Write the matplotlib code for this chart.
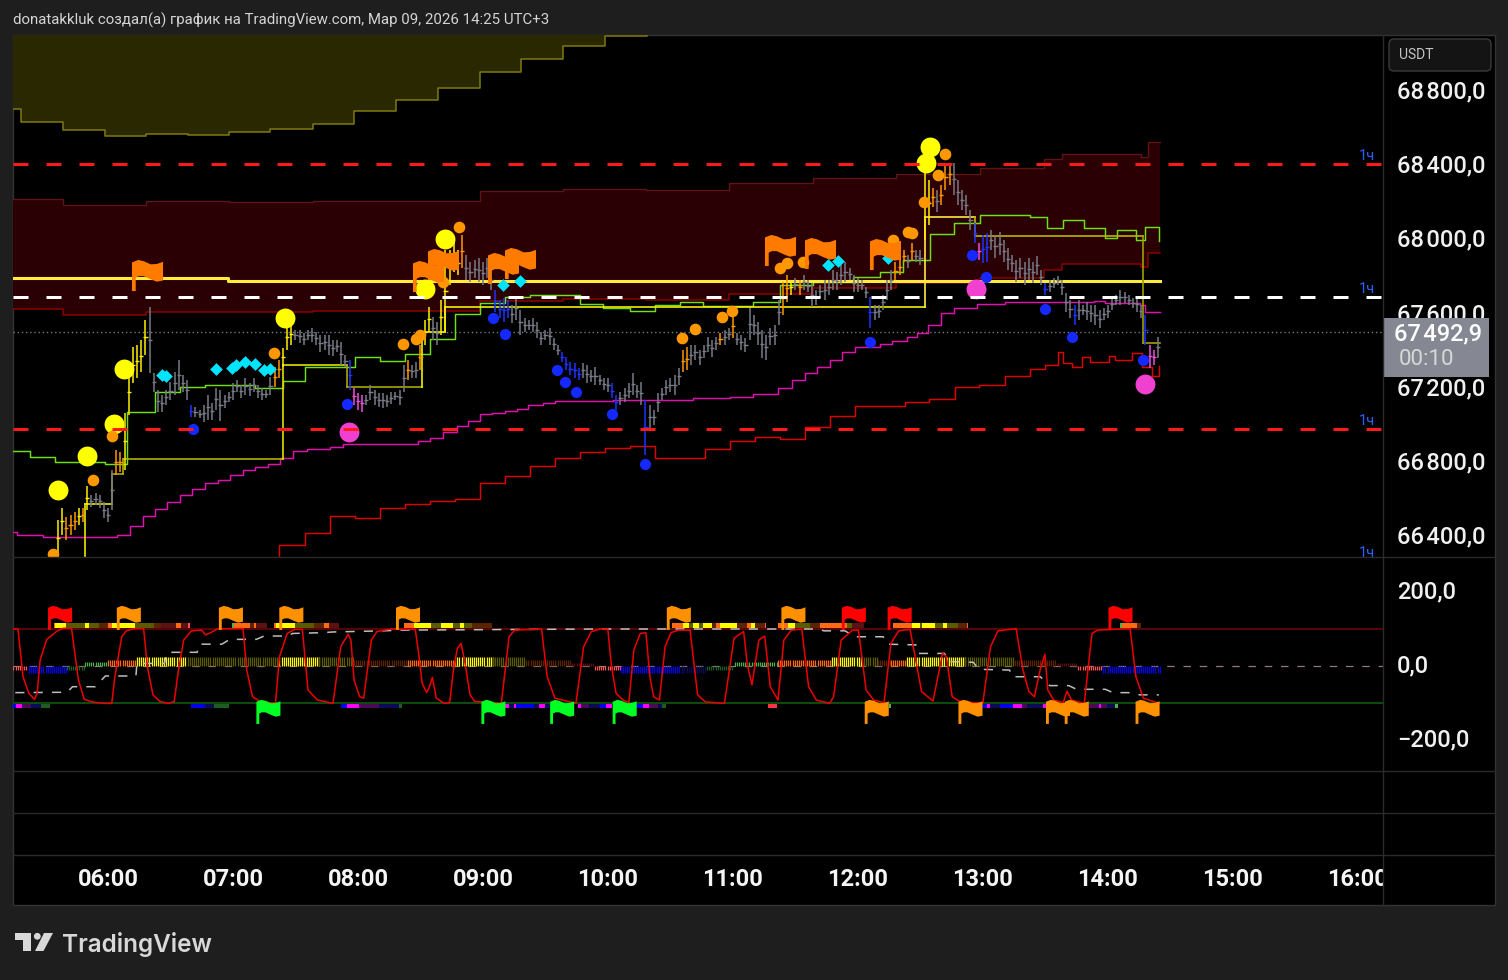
import numpy as np
import matplotlib
matplotlib.use("Agg")
import matplotlib.pyplot as plt
from matplotlib.patches import Rectangle, FancyBboxPatch, Polygon, Circle
from matplotlib.path import Path
from matplotlib.transforms import ScaledTranslation

# all times are minutes since 05:00
BG = '#1e1e1e'
GRID = '#2b2b2b'
FONT = ['Roboto', 'DejaVu Sans']

# --- price pane ---
bar_start = 36
bar_step = 2
bar_high = [
    66479, 66544, 66495, 66506, 66522, 66544, 66544, 66662, 66614, 66624,
    66614, 66576, 66544, 66748, 66856, 66845, 67056, 67287, 67411, 67422,
    67449, 67557, 67627, 67271, 67180, 67153, 67180, 67223, 67277, 67341,
    67260, 67233, 67099, 67088, 67072, 67099, 67153, 67110, 67190, 67180,
    67153, 67169, 67217, 67233, 67207, 67244, 67217, 67244, 67207, 67190,
    67180, 67250, 67304, 67341, 67406, 67530, 67541, 67503, 67503, 67487,
    67503, 67514, 67492, 67476, 67476, 67476, 67449, 67449, 67438, 67368,
    67341, 67190, 67163, 67153, 67153, 67207, 67180, 67163, 67163, 67153,
    67169, 67169, 67180, 67314, 67341, 67314, 67330, 67422, 67557, 67627,
    67573, 67546, 67665, 67934, 67934, 67988, 67934, 68015, 67907, 67870,
    67880, 67891, 67870, 67891, 67826, 67719, 67665, 67675, 67665, 67638,
    67681, 67611, 67568, 67557, 67568, 67546, 67492, 67503, 67514, 67460,
    67422, 67384, 67357, 67330, 67325, 67298, 67325, 67314, 67287, 67304,
    67260, 67244, 67244, 67217, 67153, 67169, 67190, 67217, 67271, 67207,
    67223, 67126, 67099, 67072, 67163, 67190, 67233, 67244, 67260, 67298,
    67395, 67411, 67422, 67422, 67395, 67422, 67465, 67449, 67465, 67487,
    67503, 67514, 67584, 67487, 67476, 67460, 67622, 67584, 67546, 67503,
    67476, 67514, 67530, 67665, 67762, 67799, 67772, 67783, 67772, 67799,
    67772, 67756, 67719, 67746, 67772, 67772, 67826, 67816, 67853, 67870,
    67837, 67799, 67783, 67772, 67735, 67681, 67638, 67638, 67692, 67772,
    67826, 67870, 67891, 67934, 67907, 67972, 67934, 67934, 68349, 68311,
    68268, 68258, 68285, 68392, 68403, 68403, 68311, 68258, 68231, 68150,
    68080, 67972, 68015, 68026, 68042, 68015, 68031, 67988, 67945, 67907,
    67880, 67891, 67870, 67891, 67870, 67902, 67826, 67756, 67772, 67783,
    67794, 67772, 67702, 67665, 67638, 67665, 67638, 67654, 67638, 67638,
    67611, 67622, 67638, 67675, 67692, 67719, 67708, 67692, 67675, 67681,
    67638, 67584, 67422, 67395, 67465,
]
bar_low = [
    66279, 66398, 66371, 66398, 66425, 66452, 66468, 66533, 66549, 66560,
    66544, 66490, 66468, 66533, 66721, 66738, 66748, 67045, 67217, 67244,
    67277, 67368, 67271, 67169, 67061, 67061, 67099, 67126, 67153, 67180,
    67169, 67126, 67034, 67034, 67029, 67007, 67018, 67018, 67072, 67012,
    67083, 67115, 67126, 67169, 67136, 67153, 67147, 67169, 67136, 67126,
    67136, 67153, 67196, 67244, 67304, 67395, 67422, 67449, 67433, 67422,
    67449, 67438, 67422, 67384, 67395, 67368, 67363, 67384, 67314, 67304,
    67180, 67099, 67072, 67061, 67099, 67126, 67099, 67088, 67083, 67088,
    67104, 67126, 67099, 67169, 67233, 67244, 67244, 67287, 67422, 67492,
    67449, 67422, 67476, 67492, 67746, 67816, 67799, 67837, 67772, 67762,
    67783, 67762, 67746, 67783, 67719, 67600, 67568, 67546, 67568, 67541,
    67557, 67476, 67492, 67503, 67492, 67460, 67422, 67449, 67422, 67395,
    67368, 67330, 67287, 67260, 67244, 67233, 67244, 67217, 67223, 67207,
    67207, 67180, 67169, 67136, 67072, 67099, 67115, 67136, 67153, 67136,
    67099, 66829, 66964, 66991, 67061, 67126, 67153, 67169, 67153, 67207,
    67277, 67287, 67314, 67341, 67314, 67352, 67384, 67357, 67395, 67422,
    67422, 67449, 67460, 67422, 67395, 67384, 67449, 67476, 67422, 67352,
    67341, 67422, 67422, 67530, 67584, 67654, 67692, 67719, 67692, 67719,
    67708, 67627, 67638, 67675, 67665, 67692, 67719, 67719, 67746, 67762,
    67772, 67708, 67708, 67719, 67675, 67514, 67557, 67568, 67611, 67665,
    67719, 67772, 67799, 67870, 67837, 67880, 67870, 67853, 67988, 68069,
    68166, 68139, 68177, 68258, 68285, 68231, 68177, 68150, 68123, 68042,
    67972, 67880, 67864, 67870, 67934, 67891, 67907, 67870, 67826, 67816,
    67762, 67783, 67746, 67772, 67756, 67799, 67746, 67692, 67708, 67729,
    67746, 67692, 67600, 67568, 67530, 67557, 67584, 67557, 67546, 67530,
    67514, 67557, 67568, 67611, 67638, 67638, 67649, 67638, 67622, 67600,
    67568, 67422, 67298, 67314, 67352,
]
bar_kinds = (
    "yyoooyoygg" "ggggooyyyy" "yygggggggg" "ggbggggggg" "gggggggggg"
    "ggooyyyggg" "gggggggggg" "bmmmgggggg" "ggggoggoyy" "ggyyyyyogg"
    "gggggbbbbg" "gggggggggg" "gbbbbbgggg" "gggbbggggg" "gbgggggggg"
    "oogggggggo" "ggoggggggg" "ggggooygog" "gggggggggg" "gggggbgggg"
    "gooogoggyy" "ogoooggggg" "bmbbgggggg" "gggggggbgg" "ggggbggggg"
    "gggggggggg" "gbmmg"
)
bar_palette = {'g': '#787b86', 'y': '#ffee00', 'o': '#ff9800', 'b': '#1f33ff', 'm': '#f050e0'}

olive_t = [14.4, 18.2, 38.4, 58.6, 78.2, 98.4, 118.1, 137.8, 158.4, 178.1, 198.2, 218.4, 238.6, 258.2, 278.4, 298.6, 318.7]
olive_p = [68694, 68624, 68581, 68549, 68559, 68554, 68570, 68586, 68613, 68683, 68743, 68807, 68894, 68964, 69034, 69088, 69120]

band_t = [14.4, 38.4, 78.2, 118.1, 158.4, 238.6, 278.4, 318.2, 358.1, 398.4, 438.2, 478.6, 509.3, 517.9, 555.8, 559.2, 565]
band_top = [68209, 68177, 68198, 68193, 68198, 68252, 68263, 68258, 68295, 68322, 68344, 68376, 68425, 68452, 68435, 68516, 68516]
band_low = [67616, 67584, 67600, 67600, 67605, 67659, 67670, 67665, 67697, 67729, 67756, 67783, 67826, 67859, 67843, 67918, 67918]

green_t = [14.4, 22.6, 34.6, 58.6, 69.1, 82.6, 94.6, 106.6, 130.6, 144, 154.6, 178.6, 190.6, 202.6, 214.6, 226.6, 238.6, 250.6, 262.6, 286.6, 297.6,
           310.6, 322.6, 334.6, 345.6, 369.6, 382.6, 398.4, 417.6, 430.6, 441.6, 454.6, 466.1, 478.6, 502.6, 510.7, 518.4, 528.5, 538.6, 544.3, 553.4, 557.8, 564.5]
green_p = [66851, 66818, 66792, 66781, 67061, 67169, 67196, 67207, 67190, 67228, 67304, 67357, 67336, 67374, 67454, 67589, 67649, 67681, 67692, 67643, 67622,
           67605, 67638, 67654, 67632, 67654, 67746, 67762, 67789, 67816, 67880, 68020, 68080, 68123, 68112, 68053, 68096, 68053, 67999, 68042, 67988, 68058, 67983]

stair_t = [49, 61.9, 67.2, 144, 174.7, 210.7, 221.8, 452.2, 476.2, 556.8, 565]
stair_p = [66565, 66727, 66808, 67314, 67196, 67492, 67627, 68112, 68010, 67433]
stair_c = ['#e8e800', '#a8a800', '#b0b000', '#e0e000', '#a8a800', '#f0f000', '#f0f000', '#ffe840', '#b8b800', '#a0a000']

gold_t = [14.4, 117.6, 565]
gold_p = [67783, 67767, 67767]

magenta_t = [14.4, 16.3, 28.8, 64.3, 70.6, 76.8, 82.6, 88.3, 94.6, 100.3, 106.6, 112.8, 118.6, 124.8, 130.6, 136.8, 142.6, 148.8, 155.5, 166.6, 172.8, 208.8,
             214.6, 220.8, 227.5, 232.8, 238.6, 244.3, 250.6, 256.3, 261.6, 268.8, 274.6, 302.4, 340.8, 358.6, 369.6, 381.6, 388.3, 394.6, 400.3, 406.6,
             412.3, 418.6, 430.6, 436.3, 443.5, 448.3, 453.6, 459.8, 466.1, 477.1, 490.6, 533.3, 538.6, 555.4, 557.8, 565]
magenta_p = [66414, 66398, 66387, 66398, 66447, 66500, 66538, 66576, 66614, 66646, 66678, 66694, 66721, 66748, 66764, 66781, 66813, 66851, 66862, 66872, 66889, 66905,
             66921, 66953, 66986, 67012, 67050, 67056, 67066, 67077, 67099, 67110, 67120, 67126, 67136, 67142, 67158, 67190, 67233, 67271, 67304, 67341,
             67384, 67411, 67428, 67444, 67465, 67487, 67530, 67595, 67622, 67643, 67654, 67659, 67649, 67638, 67600, 67600]

red_t = [141.6, 142.1, 154.6, 166.6, 178.6, 190.6, 202.6, 214.6, 226.6, 238.6, 250.6, 262.6, 274.6, 286.6, 298.6, 310.6, 322.6, 346.6, 358.6, 370.6, 382.6, 394.6,
         406.6, 418.6, 442.6, 454.1, 466.6, 478.1, 490.6, 502.6, 509.8, 516, 518.4, 522.7, 527.5, 531.4, 540.5, 543.4, 551.5, 556.3, 561.1, 564.5]
red_p = [66085, 66344, 66409, 66500, 66490, 66544, 66565, 66581, 66592, 66678, 66716, 66770, 66813, 66845, 66867, 66878, 66813, 66862, 66905, 66926, 66916, 66980,
         67039, 67093, 67115, 67131, 67196, 67207, 67255, 67293, 67314, 67384, 67325, 67304, 67357, 67330, 67363, 67341, 67379, 67304, 67255, 67309]

yellow_t = [36, 49.9, 62.9, 67.7, 145, 212.2, 221.8, 452.6, 454.6]
yellow_p = [66641, 66824, 66996, 67293, 67568, 67724, 67993, 68403, 68489]
orange_t = [33.6, 52.8, 61.9, 139.7, 201.6, 207.8, 209.8, 220.8, 228.5, 335.5, 341.8, 354.7, 359.5, 382.6, 385.9, 393.6, 436.8, 444, 445.9, 451.7, 458.4, 461.8]
orange_p = [66296, 66694, 66932, 67379, 67428, 67454, 67476, 67762, 68058, 67460, 67508, 67573, 67605, 67837, 67864, 67870, 67988, 68031, 68026, 68193, 68338, 68452]
blue_t = [100.8, 174.7, 244.8, 250.6, 275.5, 279.4, 284.6, 301.9, 317.8, 425.8, 474.7, 481.4, 509.8, 522.7, 556.8]
blue_p = [66969, 67104, 67568, 67481, 67287, 67223, 67169, 67050, 66781, 67438, 67907, 67789, 67616, 67465, 67341]
cyan_t = [85.9, 87.8, 111.8, 119.5, 121.4, 125.8, 130.6, 134.9, 137.8, 249.6, 257.8, 405.6, 410.4, 434.4]
cyan_p = [67260, 67255, 67293, 67298, 67314, 67330, 67320, 67287, 67293, 67746, 67767, 67853, 67875, 67891]
pink_t = [175.7, 476.6, 557.8]
pink_p = [66953, 67724, 67212]
flag_t = [78.7, 213.6, 220.8, 249.6, 257.8, 382.6, 401.8, 433]
flag_p = [67799, 67794, 67859, 67837, 67864, 67934, 67918, 67913]

level_red = [68400, 66970]
level_white = 67680
last_price = 67492.9
price_ticks = [66400, 66800, 67200, 67600, 68000, 68400, 68800]

# --- oscillator pane ---
osc_t = [14.6, 16.8, 17.7, 19.2, 22, 24.7, 26, 27.4, 30.6, 35.7, 38.5, 42.5, 44.3, 45.8, 48.6, 52.2, 57.8, 61.8, 63.3, 66.6, 68.8, 72.5, 77.1, 78.9, 81.6, 85, 89,
         91.8, 93.6, 96.3, 100, 105, 106.8, 109.2, 112.9, 124.8, 126.6, 129.4, 133, 140.4, 142.3, 146, 149.6, 153.3, 156, 160.6, 168, 171.7, 175.3, 176.6, 178.1,
         180.8, 182.7, 186.4, 189.1, 195.5, 207.5, 209.3, 210.8, 213, 214.3, 215.7, 217.6, 221.3, 224, 225.8, 227.7, 229.5, 231.4, 233.8, 236, 248.8, 252.5, 255.2,
         268.1, 270.8, 274.5, 284.6, 288.3, 292, 296.2, 299.9, 301.7, 303.9, 307.2, 310, 312.4, 315.5, 318.2, 320.1, 321.9, 324.7, 327.4, 330.2, 333.9, 339.4, 343,
         346.7, 355.9, 358.7, 360.5, 365.1, 366.9, 369.1, 372.4, 375.2, 377.9, 381.6, 384.4, 388, 393, 396.3, 400, 406.4, 408.3, 411.9, 417.4, 420.2, 423.9, 427.5,
         432.5, 435.8, 439.5, 445, 450.5, 456, 460.6, 462.4, 465.2, 468.9, 479.9, 483.6, 487.2, 495.9, 499.2, 502, 504.7, 507.4, 509.7, 511.1, 513.9, 518.5, 520.3,
         522.5, 528.6, 532.3, 535, 550.6, 553.4, 557, 564.4]
osc_v = [100, 100, 52, -29, -74, -90, -74, 16, 72, 95, 102, 102, 25, -38, -90, -97, -101, -101, -29, 79, 95, 101, 101, -2, -78, -96, -101,
         -96, -20, 70, 95, 97, 84, 90, 101, 101, -11, -83, -96, -101, 25, 88, 99, 99, -65, -92, -101, 52, 86, 70, -38,
         -83, -87, 70, 93, 100, 99, 25, -47, -72, -56, -31, -87, -101, -99, -11, 48, 61, 7, -78, -96, -101, 79, 97,
         100, -29, -87, -101, 52, 93, 100, 100, -2, -74, -92, -99, 43, 88, 90, -29, -83, -92, 52, 90, 97, 97, -78,
         -97, -101, 7, 75, 93, 3, -51, 70, 81, -56, -92, 70, 97, 100, -56, -92, -101, -83, 70, 97, 97, -65, -92,
         -99, 61, 95, 99, -69, -95, 34, 25, -83, -96, -101, 52, 95, 101, -11, -69, -83, -11, 32, -65, -92, -99, -68,
         -92, -101, 88, 97, 101, -29, -87, -101]

slow_t = [15.5, 40.3, 43, 54, 58.7, 73.4, 73.9, 87.1, 88.4, 102.8, 103.7, 114.7, 118.4, 131.2, 134.9, 145.9, 148.7, 162.5, 168, 191.9, 201, 296, 400.9, 403.7,
          413.8, 418.4, 432.1, 434, 447.8, 448.7, 461.5, 463.4, 475.3, 478.1, 492.8, 493.7, 507.5, 512, 521.2, 524.9, 538.7, 542.4, 551.5, 555.2, 564.4]
slow_v = [-72, -71, -56, -56, -27, -27, 7, 7, 37, 37, 59, 59, 72, 72, 81, 81, 88, 90, 92, 95, 97, 100, 100, 95,
          95, 79, 79, 59, 57, 34, 34, 12, 10, -9, -11, -29, -29, -53, -53, -63, -63, -72, -72, -78, -78]

tone = {'yel': '#ffff00', 'oli': '#5a5a00', 'bro': '#5a2400', 'ora': '#ff6a13', 'mar': '#5a1212', 'sal': '#ff5555',
        'gre': '#4caf50', 'dkg': '#1b5e20', 'blu': '#0000ee', 'nav': '#0a0a55', 'mag': '#ff00ff', 'pur': '#4a0a55', 'red': '#ff3344'}

hist_from = [14.6, 22, 40.3, 49, 60, 73.9, 98.2, 142.3, 161.5, 178.1, 203.8, 227.7, 244.8, 260.8, 281.9, 293.8, 306.3, 335.7, 347.6, 360.9,
             381.6, 407.3, 422, 429.4, 435.8, 443.5, 471.6, 495.5, 514.8, 525.8, 537.8]
hist_to = [21, 40.3, 48.6, 59.6, 73.4, 97.6, 142.3, 161.5, 178.1, 203.8, 227.7, 244.8, 260.8, 281.9, 293.3, 306.3, 335.7, 347.6, 360.5, 381.6,
           407.3, 422, 429.4, 435.8, 443.2, 471.6, 495.5, 514.8, 525.5, 537.8, 565.3]
hist_val = [-10, -18, -10, 10, 17, 25, 25, 25, 25, 17, 17, 25, 25, 17, 8, -10, -18, -18, -10, 10, 17, 25, 25, 17, 17, 25, 25, 17, 8, -10, -18]
hist_tone = ['sal', 'blu', 'dkg', 'gre', 'ora', 'yel', 'oli', 'yel', 'oli', 'bro', 'ora', 'yel', 'oli', 'bro', 'mar', 'sal', 'blu', 'nav', 'dkg', 'gre',
             'ora', 'yel', 'oli', 'bro', 'ora', 'yel', 'oli', 'bro', 'mar', 'sal', 'blu']

top_from = [33.9, 34.8, 39.8, 49, 50.8, 55.9, 60, 62, 72.8, 82, 85.3, 92.7, 94.9, 98.2,
            119.3, 120.6, 128, 130.3, 131.2,
            139.7, 140.8, 149.6, 158.8, 163.8, 166.1,
            202.2, 206.9, 215.2, 219.8, 225.8, 229.1, 231, 234.7,
            330.6, 336, 338.8, 340.8, 343.6, 345.4, 350, 351.9, 353.7, 362, 366.9, 368.8, 370.6, 375.2,
            381.6, 386.2, 389.9, 396.9, 401.8, 414.7, 416.9,
            436.7, 445.9, 449.6, 450.5, 457, 460.6, 462.8, 468, 472.2,
            545.7, 546.6, 553.9]
top_to = [34.8, 39.8, 49, 50.8, 55.9, 60, 62, 72.8, 82, 85.3, 92.7, 94.9, 98.2, 99.5,
          120.6, 128, 130.3, 131.2, 136.2,
          140.8, 149.6, 158.8, 163.8, 166.1, 170.7,
          206.9, 215.2, 219.8, 225.8, 229.1, 231, 234.7, 244.2,
          336, 338.8, 340.8, 343.6, 345.4, 350, 351.9, 353.7, 362, 366.9, 368.8, 370.6, 375.2, 375.9,
          386.2, 389.9, 396.9, 401.8, 414.7, 416.9, 423,
          445.9, 449.6, 450.5, 457, 460.6, 462.8, 468, 472.2, 472.9,
          546.6, 553.9, 555.8]
top_tone = ['ora', 'yel', 'oli', 'yel', 'oli', 'bro', 'ora', 'yel', 'oli', 'bro', 'mar', 'ora', 'mar', 'sal',
            'gre', 'ora', 'bro', 'ora', 'mar',
            'ora', 'yel', 'oli', 'bro', 'ora', 'mar',
            'ora', 'yel', 'oli', 'yel', 'oli', 'yel', 'oli', 'bro',
            'ora', 'yel', 'oli', 'yel', 'oli', 'yel', 'bro', 'ora', 'yel', 'bro', 'ora', 'yel', 'bro', 'sal',
            'ora', 'yel', 'oli', 'bro', 'ora', 'oli', 'mar',
            'ora', 'yel', 'oli', 'yel', 'oli', 'yel', 'oli', 'bro', 'sal',
            'gre', 'ora', 'bro']

low_from = [14.6, 15.9, 18.8, 23.2, 27.8,
            100, 106.8, 111, 114.3,
            172, 174.8, 180.3, 190, 199.8,
            250.6, 252.5, 254.9, 255.8, 264.4, 266.8, 269.8,
            285.6, 287, 291, 296.2, 299,
            313.3, 316.8, 319.7, 324.1, 326,
            377, 434.9,
            479.5, 481.7, 483.2, 488.2, 494.2, 498.8, 501, 508.9,
            530.4, 535.6, 536.8, 539.6, 543.3]
low_to = [15.9, 18.8, 23.2, 27.8, 32,
          106.8, 111, 114.3, 118,
          174.8, 180.3, 190, 199.8, 201,
          252.5, 254.9, 255.8, 264.4, 266.8, 269.8, 272.1,
          287, 291, 296.2, 299, 302.1,
          316.8, 319.7, 324.1, 326, 327.8,
          381.1, 435.8,
          481.7, 483.2, 488.2, 494.2, 498.8, 501, 508.9, 510.2,
          535.6, 536.8, 539.6, 543.3, 544.7]
low_tone = ['blu', 'mag', 'pur', 'nav', 'dkg',
            'blu', 'nav', 'dkg', 'dkg',
            'blu', 'mag', 'pur', 'nav', 'dkg',
            'mag', 'nav', 'mag', 'blu', 'nav', 'mag', 'nav',
            'mag', 'pur', 'nav', 'blu', 'mag',
            'blu', 'mag', 'pur', 'nav', 'dkg',
            'red', 'gre',
            'blu', 'mag', 'nav', 'blu', 'mag', 'pur', 'nav', 'mag',
            'pur', 'mag', 'pur', 'nav', 'gre']

osc_flag_up_t = [37, 70, 119, 148, 204, 334, 389, 418, 440, 546]
osc_flag_up_c = ['#ff0000', '#ff9000', '#ff9000', '#ff9000', '#ff9000', '#ff9000', '#ff9000', '#ff0000', '#ff0000', '#ff0000']
osc_flag_dn_t = [137, 245, 278, 308, 429, 474, 516, 525, 559]
osc_flag_dn_c = ['#00ff22', '#00ff22', '#00ff22', '#00ff22', '#ff9000', '#ff9000', '#ff9000', '#ff9000', '#ff9000']
osc_ticks = [-200, 0, 200]

time_ticks = [60, 120, 180, 240, 300, 360, 420, 480, 540, 600, 660]
time_labels = ['06:00', '07:00', '08:00', '09:00', '10:00', '11:00', '12:00', '13:00', '14:00', '15:00', '16:00']

plt.rcParams['font.family'] = FONT

W, H = 1508, 980
X_LIM = (14.4, 672)


def pane(top, bottom, **kw):
    return fig.add_axes([13 / W, 1 - bottom / H, 1370 / W, (bottom - top) / H], **kw)


def price_fmt(v):
    whole = int(v)
    return f"{whole // 1000}\u200a{whole % 1000:03d},0"


flag_path = Path([(-.5, -.5), (-.5, .42), (-.3, .5), (-.12, .46), (.1, .36), (.3, .37), (.5, .44), (.5, -.16), (.3, -.2),
                  (.1, -.12), (-.12, -.02), (-.28, -.02), (-.38, -.07), (-.38, -.5), (-.5, -.5)])

fig = plt.figure(figsize=(W / 100, H / 100), dpi=100, facecolor=BG)

back = fig.add_axes([0, 0, 1, 1], zorder=0)
back.set_xlim(0, W)
back.set_ylim(H, 0)
back.axis('off')
back.add_patch(Rectangle((13, 35), 1482, 870, facecolor='black', edgecolor='#333333', lw=1))

# price pane
ax = pane(35, 557, zorder=2)
ax.set_facecolor('none')
ax.set_xlim(*X_LIM)
ax.set_ylim(66279, 69093)

ax.fill_between(olive_t, olive_p, 69200, step='post', color='#2a2800', lw=0, zorder=1)
ax.step(olive_t, olive_p, where='post', color='#807a10', lw=1.1, zorder=1.2)
ax.fill_between(band_t, band_low, band_top, step='post', color='#2b0005', lw=0, zorder=1)
ax.step(band_t, band_top, where='post', color='#5c1416', lw=1.0, zorder=1.2)
ax.step(band_t, band_low, where='post', color='#8b0000', lw=1.1, zorder=1.2)

ax.step(magenta_t, magenta_p, where='post', color='#e010b0', lw=1.05, zorder=2)
ax.step(red_t, red_p, where='post', color='#e00000', lw=1.05, zorder=2)
ax.step(green_t, green_p, where='post', color='#70e010', lw=1.05, zorder=2)
ax.step(gold_t, gold_p, where='post', color='#ffeb3b', lw=2.2, zorder=2.1)

for i, col in enumerate(stair_c):
    ax.plot([stair_t[i], stair_t[i + 1]], [stair_p[i], stair_p[i]], color=col, lw=1.2, zorder=2.2)
    if i < len(stair_c) - 1:
        ax.plot([stair_t[i + 1], stair_t[i + 1]], [stair_p[i], stair_p[i + 1]], color=stair_c[i + 1], lw=1.2, zorder=2.2)
ax.plot([stair_t[0], stair_t[0]], [66200, stair_p[0]], color=stair_c[0], lw=1.2, zorder=2.2)

# bars: one stroke per bar, body tick joins up with the next bar
bar_x = bar_start + bar_step * np.arange(len(bar_high))
bar_cols = [bar_palette[k] for k in bar_kinds]
ax.vlines(bar_x, bar_low, bar_high, colors=bar_cols, lw=1.1, zorder=3)
bar_mid = (np.array(bar_high) + np.array(bar_low)) / 2
ax.hlines(bar_mid, bar_x - 1.0, bar_x + 1.0, colors=bar_cols, lw=1.0, zorder=3)

ax.scatter(yellow_t, yellow_p, s=205, color='#ffff00', lw=0, zorder=4)
ax.scatter(orange_t, orange_p, s=70, color='#ff9800', lw=0, zorder=4)
ax.scatter(blue_t, blue_p, s=65, color='#1428ff', lw=0, zorder=4)
ax.scatter(cyan_t, cyan_p, s=42, marker='D', color='#00e5ff', lw=0, zorder=4)
ax.scatter(pink_t, pink_p, s=205, color='#f040d0', lw=0, zorder=4)
ax.scatter(flag_t, flag_p, s=500, marker=flag_path, color='#ff7b00', lw=0, zorder=4.5)

for lvl in level_red:
    ax.plot([X_LIM[0], 671], [lvl, lvl], color='#ff1a1a', lw=2.16, ls=(0, (5, 6)), zorder=5)
ax.plot([X_LIM[0], 671], [level_white, level_white], color='#ffffff', lw=2.16, ls=(0, (5, 6)), zorder=5)
ax.axhline(last_price, color='#787b86', lw=1, ls=(0, (1, 2)), zorder=1.8)

for p in [68441, 67724, 67012, 66301]:
    ax.text(664.3, p, '1ч', color='#2962ff', fontsize=10.5, ha='center', va='center', clip_on=True, zorder=5)

ax.yaxis.tick_right()
ax.set_yticks(price_ticks)
ax.set_yticklabels([price_fmt(v) for v in price_ticks], fontsize=17, color='#f0f0f0', fontweight='medium')
ax.tick_params(axis='y', length=0, pad=10)
ax.set_xticks([])
for s in ax.spines.values():
    s.set_visible(False)

# oscillator pane
osc = pane(558, 771, zorder=2)
osc.set_facecolor('none')
osc.set_xlim(*X_LIM)
osc.set_ylim(-283.8, 291.9)
osc.axhline(100, color='#5a0505', lw=1.4, zorder=1)
osc.axhline(-100, color='#0b4d0b', lw=1.4, zorder=1)
osc.axhline(0, color='#9a7777', lw=0.9, ls=(0, (6, 7)), zorder=1)

for a, b, v, t in zip(hist_from, hist_to, hist_val, hist_tone):
    xs = np.arange(a, b, 1.0)
    osc.vlines(xs, 0, v, colors=tone[t], lw=0.9, zorder=2)
osc.barh(109.5, np.array(top_to) - np.array(top_from), left=top_from, height=12, color=[tone[t] for t in top_tone], lw=0, zorder=2)
osc.barh(-107.5, np.array(low_to) - np.array(low_from), left=low_from, height=10, color=[tone[t] for t in low_tone], lw=0, zorder=2)

osc.plot(slow_t, slow_v, color='#bdbdbd', lw=1.1, ls=(0, (6, 6)), zorder=3)
osc.plot(osc_t, osc_v, color='#ee0000', lw=1.1, zorder=4)
osc.scatter(osc_flag_up_t, [130] * len(osc_flag_up_t), s=300, marker=flag_path, c=osc_flag_up_c, lw=0, zorder=5)
osc.scatter(osc_flag_dn_t, [-124] * len(osc_flag_dn_t), s=300, marker=flag_path, c=osc_flag_dn_c, lw=0, zorder=5)

osc.yaxis.tick_right()
osc.set_yticks(osc_ticks)
osc.set_yticklabels(['\u2212200,0', '0,0', '200,0'], fontsize=17, color='#f0f0f0', fontweight='medium')
osc.tick_params(axis='y', length=0, pad=10)
osc.set_xticks([])
# the labels sit a little above their ticks in this pane
nudge = ScaledTranslation(0, 3 / 100, fig.dpi_scale_trans)
for lab in osc.get_yticklabels():
    lab.set_transform(lab.get_transform() + nudge)
for s in osc.spines.values():
    s.set_visible(False)

# time scale
tax = pane(856, 905, zorder=2)
tax.set_facecolor('none')
tax.set_xlim(*X_LIM)
tax.set_ylim(0, 1)
tax.axis('off')
for t, lab in zip(time_ticks, time_labels):
    tax.text(t, 0.53, lab, color='#f5f5f5', fontsize=17, fontweight='bold', ha='center', va='center', clip_on=True)

# frame, price tag, title and logo
top = fig.add_axes([0, 0, 1, 1], zorder=5)
top.set_xlim(0, W)
top.set_ylim(H, 0)
top.axis('off')
top.patch.set_alpha(0)
for yy in [556.5, 770.5, 812.5, 854.5]:
    top.plot([13, 1495], [yy, yy], color=GRID, lw=1)
top.plot([1383, 1383], [35, 905], color=GRID, lw=1)
top.add_patch(Rectangle((1384, 318), 105, 59, facecolor='#858893', edgecolor='none'))
top.text(1482, 334, price_fmt(67492).replace(',0', ',9'), color='#ffffff', fontsize=17, fontweight='medium', ha='right', va='center')
top.text(1399, 359, '00:10', color='#d8d8d8', fontsize=16, ha='left', va='center')
top.add_patch(FancyBboxPatch((1392, 42), 96, 26, boxstyle='round,pad=3,rounding_size=5', facecolor='#141414', edgecolor='#3a3a3a', lw=1))
top.text(1399, 55, 'USDT', color='#c4c4c4', fontsize=10, ha='left', va='center')
top.text(13, 20, 'donatakkluk создал(а) график на TradingView.com, Мар 09, 2026 14:25 UTC+3', color='#d4d4d4', fontsize=10.8, ha='left', va='center')

logo = '#d8d8d8'
top.add_patch(Polygon([(15, 933), (31, 933), (31, 951), (23, 951), (23, 939.5), (15, 939.5)], facecolor=logo, edgecolor='none'))
top.add_patch(Circle((37.3, 936.3), 3.4, facecolor=logo, edgecolor='none'))
top.add_patch(Polygon([(44, 933), (53, 933), (43.5, 951), (35, 951)], facecolor=logo, edgecolor='none'))
top.text(62, 944, 'TradingView', color=logo, fontsize=17.5, fontweight='semibold', family=['Inter', 'DejaVu Sans'], ha='left', va='center')

fig.savefig('out.png', dpi=100, facecolor=fig.get_facecolor())
